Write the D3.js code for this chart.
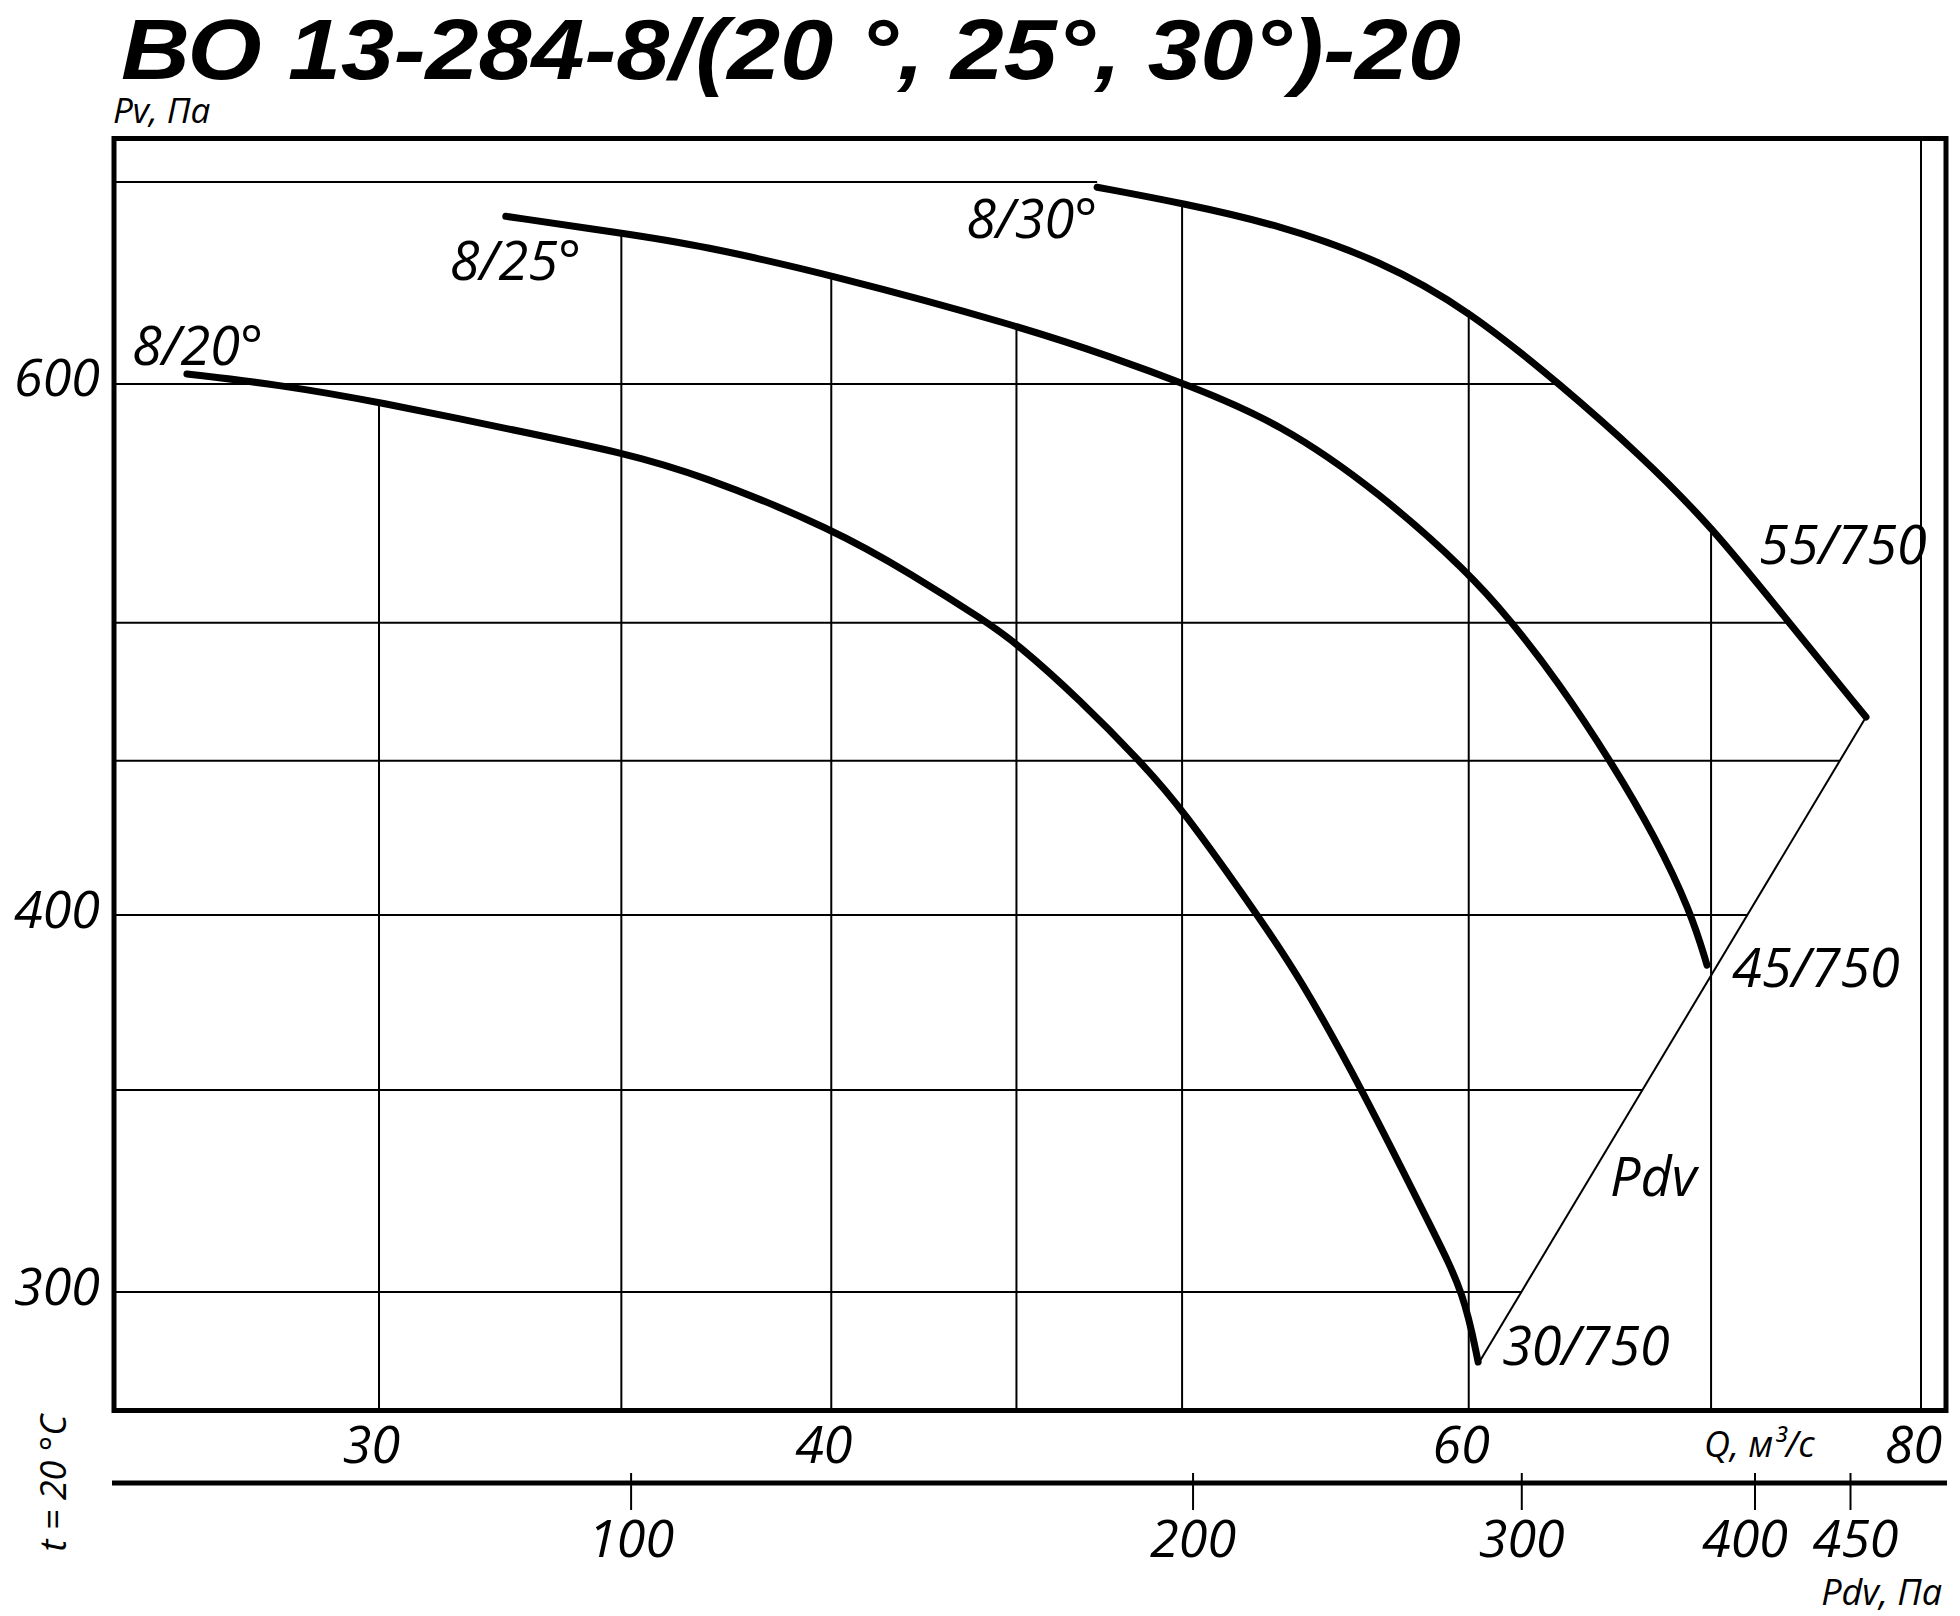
<!DOCTYPE html>
<html><head><meta charset="utf-8">
<script src="https://cdn.jsdelivr.net/npm/d3@7"></script>
<style>
html,body{margin:0;padding:0;background:#fff;}
svg{display:block;background:#fff;}
text{font-family:'Open Sans',sans-serif;font-style:italic;fill:#000;}
</style></head><body>
<svg id="chart" width="1960" height="1616"></svg>
<script>
// ---------- texts ----------
const titleText = "ВО 13-284-8/(20 °, 25°, 30°)-20";
const pvAxisTitle = "Pv, Па";
const qAxisTitle = "Q, м³/с";
const pdvAxisTitle = "Pdv, Па";
const tempNote = "t = 20 °C";

// ---------- axes / grid values ----------
const pvGridValues = [300, 350, 400, 450, 500, 600, 700];
const pvTickLabels = [300, 400, 600];
const qGridValues = [30, 35, 40, 45, 50, 60, 70, 80];
const qTickLabels = [30, 40, 60, 80];
const pdvTicks = [100, 200, 300, 400, 450];

// ---------- series (Q in m3/s, Pv in Pa) ----------
const seriesNames = ["8/20°", "8/25°", "8/30°"];
const seriesEndLabels = ["30/750", "45/750", "55/750"];

const q20 = [26.55, 28.17, 30.00, 32.67, 35.04, 36.80, 40.04, 42.13, 44.11, 44.99, 46.86, 48.74, 50.03, 52.37, 53.89, 56.06, 58.69, 59.82, 60.36];
const pv20 = [604.6, 599.6, 591.8, 579.3, 569.3, 559.8, 537.2, 518.6, 500.7, 492.4, 471.4, 449.2, 433.4, 401.2, 381.4, 350.3, 313.8, 299.8, 284.4];

const q25 = [32.52, 35.04, 36.80, 40.04, 44.99, 47.85, 50.16, 53.21, 56.71, 60.01, 61.60, 63.47, 65.73, 67.55, 69.11, 69.82];
const pv25 = [681.9, 673.1, 667.0, 651.9, 627.5, 612.3, 599.6, 582.4, 552.1, 519.4, 501.1, 478.6, 449.2, 424.7, 400.9, 385.0];

const q30 = [47.37, 50.03, 53.21, 56.71, 60.01, 63.67, 66.91, 70.00, 73.46, 77.25];
const pv30 = [697.2, 688.7, 677.3, 659.4, 634.7, 599.1, 568.4, 538.4, 501.1, 465.3];

// Pdv line (joins the curve end points)
const pdvLineName = "Pdv";
const pdvLineQ = [60.43, 77.25];
const pdvLinePv = [284.6, 465.3];

// ---------- layout ----------
const frame = {left: 114, top: 138.5, right: 1946, bottom: 1410.5};
const pdvAxisY = 1483;

const svg = d3.select("#chart");
const x = d3.scaleLog().domain([30, 80]).range([379, 1921]);
const y = d3.scaleLog().domain([300, 700]).range([1292, 182]);
const xPdv = d3.scaleLog().domain([100, 450]).range([630.6, 1850]);

const zip = (qs, ps) => qs.map((q, i) => [q, ps[i]]);
const curves = [zip(q20, pv20), zip(q25, pv25), zip(q30, pv30)];
const pdvPts = zip(pdvLineQ, pdvLinePv);
const toPx = pts => pts.map(d => [x(d[0]), y(d[1])]);
const curvesPx = curves.map(toPx);

// ---------- grid ----------
// right boundary: 8/30 curve then Pdv line down to its lower end
const boundary = curvesPx[2].concat(toPx([pdvPts[0]]));
function boundaryX(py) {
  if (py <= boundary[0][1]) return boundary[0][0];
  for (let i = 0; i < boundary.length - 1; i++) {
    const a = boundary[i], b = boundary[i + 1];
    if ((py - a[1]) * (py - b[1]) <= 0) {
      const t = (py - a[1]) / (b[1] - a[1]);
      return a[0] + t * (b[0] - a[0]);
    }
  }
  return frame.right;
}
function topEnvelope(px) {
  let best = null;
  curvesPx.forEach(c => {
    if (px < c[0][0] || px > c[c.length - 1][0]) return;
    for (let i = 0; i < c.length - 1; i++) {
      const a = c[i], b = c[i + 1];
      if (px >= a[0] && px <= b[0]) {
        const t = (px - a[0]) / (b[0] - a[0]);
        const yy = a[1] + t * (b[1] - a[1]);
        if (best === null || yy < best) best = yy;
        break;
      }
    }
  });
  return best === null ? frame.top : best;
}

const grid = svg.append("g").attr("stroke", "#000").attr("stroke-width", 2);
grid.selectAll("line.h").data(pvGridValues).join("line").attr("class", "h")
  .attr("x1", frame.left).attr("x2", d => boundaryX(y(d)))
  .attr("y1", d => y(d)).attr("y2", d => y(d));
grid.selectAll("line.v").data(qGridValues).join("line").attr("class", "v")
  .attr("x1", d => x(d)).attr("x2", d => x(d))
  .attr("y1", d => topEnvelope(x(d))).attr("y2", frame.bottom);

// ---------- Pdv line ----------
svg.append("path").datum(pdvPts)
  .attr("fill", "none").attr("stroke", "#000").attr("stroke-width", 2)
  .attr("d", d3.line().x(d => x(d[0])).y(d => y(d[1])));

// ---------- curves ----------
const lineGen = d3.line().x(d => x(d[0])).y(d => y(d[1])).curve(d3.curveBasis);
svg.append("g").selectAll("path").data(curves).join("path")
  .attr("fill", "none").attr("stroke", "#000").attr("stroke-width", 7)
  .attr("stroke-linecap", "round").attr("stroke-linejoin", "round")
  .attr("d", lineGen);

// ---------- frame ----------
const fr = svg.append("g").attr("stroke", "#000").attr("stroke-width", 5).attr("fill", "none");
fr.append("rect").attr("x", frame.left).attr("y", frame.top)
  .attr("width", frame.right - frame.left).attr("height", frame.bottom - frame.top);

// ---------- Pv axis labels ----------
const pvAxis = svg.append("g").attr("transform", `translate(${frame.left},0)`)
  .call(d3.axisLeft(y).tickValues(pvTickLabels).tickSize(0).tickFormat(d3.format("d")));
pvAxis.attr("font-family", null).attr("font-size", null);
pvAxis.select(".domain").remove();
pvAxis.selectAll("text").attr("x", -14).attr("dy", 0).attr("y", 12)
  .attr("text-anchor", "end").style("font-size", "52px");

// ---------- Q axis labels ----------
const qAxis = svg.append("g").attr("transform", `translate(0,${frame.bottom})`)
  .call(d3.axisBottom(x).tickValues(qTickLabels).tickSize(0).tickFormat(d3.format("d")));
qAxis.attr("font-family", null).attr("font-size", null);
qAxis.select(".domain").remove();
qAxis.selectAll("text").attr("y", 52.5).attr("dy", 0).attr("dx", -8)
  .style("font-size", "52px");

// ---------- Pdv axis ----------
svg.append("line").attr("x1", 112).attr("x2", 1947).attr("y1", pdvAxisY).attr("y2", pdvAxisY)
  .attr("stroke", "#000").attr("stroke-width", 5);
const pdvAxis = svg.append("g").attr("transform", `translate(0,${pdvAxisY - 10})`)
  .call(d3.axisBottom(xPdv).tickValues(pdvTicks).tickSize(37).tickFormat(d3.format("d")));
pdvAxis.attr("font-family", null).attr("font-size", null);
pdvAxis.select(".domain").remove();
pdvAxis.selectAll(".tick line").attr("stroke-width", 2);
pdvAxis.selectAll("text").attr("y", 84).attr("dy", 0)
  .attr("dx", d => d === 400 ? -10 : (d === 450 ? 5 : 0))
  .style("font-size", "52px");

// ---------- axis titles ----------
svg.append("text").attr("x", 121).attr("y", 79)
  .attr("textLength", 1340).attr("lengthAdjust", "spacingAndGlyphs")
  .style("font-family", "'Liberation Sans Narrow','Liberation Sans',Arial,sans-serif")
  .style("font-weight", "bold").style("font-size", "86px")
  .text(titleText);
svg.append("text").attr("x", 113).attr("y", 123).style("font-size", "35px").text(pvAxisTitle);
svg.append("text").attr("x", 1704).attr("y", 1457).style("font-size", "36px").text(qAxisTitle);
svg.append("text").attr("x", 1942).attr("y", 1605).attr("text-anchor", "end")
  .style("font-size", "36px").text(pdvAxisTitle);
svg.append("text").attr("transform", "translate(66,1483) rotate(-90)")
  .attr("text-anchor", "middle").style("font-size", "36px").text(tempNote);

// ---------- curve labels ----------
const startOffsets = [[-55, -9], [-56, 64], [-131, 51]];
const endOffsets = [[24, 3], [25, 22], [-107, -153]];
curvesPx.forEach((c, i) => {
  const s = c[0], e = c[c.length - 1];
  svg.append("text").attr("x", s[0] + startOffsets[i][0]).attr("y", s[1] + startOffsets[i][1])
    .style("font-size", "54px").text(seriesNames[i]);
  svg.append("text").attr("x", e[0] + endOffsets[i][0]).attr("y", e[1] + endOffsets[i][1])
    .style("font-size", "54px").text(seriesEndLabels[i]);
});
const pdvMid = toPx(pdvPts);
svg.append("text")
  .attr("x", (pdvMid[0][0] + pdvMid[1][0]) / 2 - 63)
  .attr("y", (pdvMid[0][1] + pdvMid[1][1]) / 2 + 157)
  .style("font-size", "54px").text(pdvLineName);
</script>
</body></html>
